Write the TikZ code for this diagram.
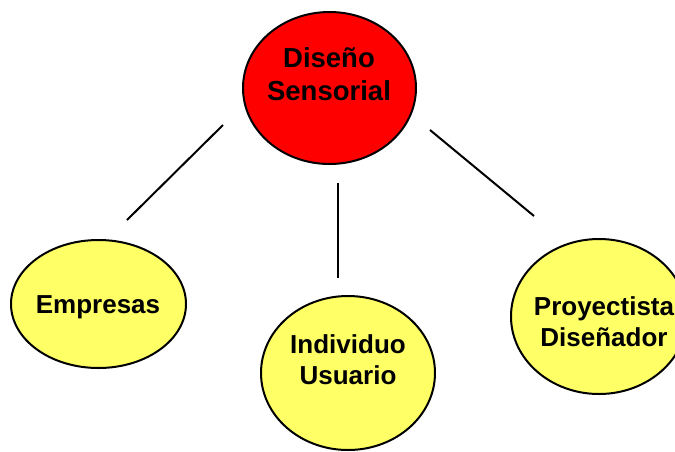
\documentclass[tikz,border=0pt]{standalone}
\usepackage{fontspec}
\setmainfont{Liberation Sans}
\usetikzlibrary{shapes.geometric}
\definecolor{rojo}{HTML}{FF0000}
\definecolor{amarillo}{HTML}{FFFF66}
\begin{document}
\begin{tikzpicture}[x=1pt, y=-1pt, line width=2pt,
    every node/.style={inner sep=0pt, outer sep=0pt, align=center, font=\bfseries\fontsize{26}{31}\selectfont},
    burbuja/.style={ellipse, draw=black, fill=amarillo},
    enlace/.style={draw=black, line cap=butt}]
    \useasboundingbox (0,0) rectangle (675,451);
    \clip (0,0) rectangle (675,451);
        \node[burbuja, fill=rojo, minimum width=173pt, minimum height=152pt] (sensorial) at (329.5, 88) {};
        \node[burbuja, minimum width=175pt, minimum height=128pt] (empresas) at (98.5, 304) {};
        \node[burbuja, minimum width=174pt, minimum height=154pt] (individuo) at (348, 373) {};
        \node[burbuja, minimum width=176pt, minimum height=155pt] (proyectista) at (599, 316.5) {};
        \node[font=\bfseries\fontsize{27.5}{33}\selectfont] (sensorial-t) at (329, 74) {Diseño\\Sensorial};
        \node (empresas-t) at (98, 307) {Empresas};
        \node (individuo-t) at (348, 360) {Individuo\\Usuario};
        \node (proyectista-t) at (604, 322) {Proyectista\\Diseñador};
        \coordinate (a1) at (223, 125);
        \coordinate (a2) at (127, 220);
        \coordinate (b1) at (338, 183);
        \coordinate (b2) at (338, 278);
        \coordinate (c1) at (430, 130);
        \coordinate (c2) at (534, 216);
        \draw[enlace] (a1) -- (a2);
        \draw[enlace] (b1) -- (b2);
        \draw[enlace] (c1) -- (c2);
    \end{tikzpicture}
\end{document}
